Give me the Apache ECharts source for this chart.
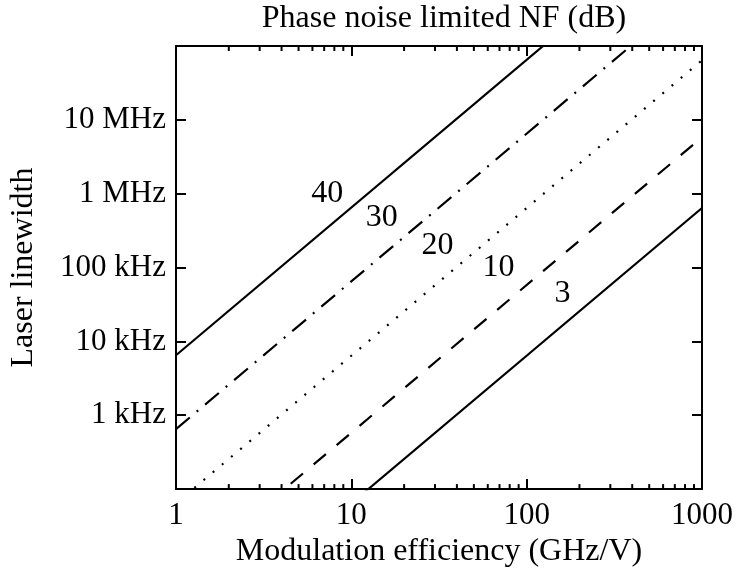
<!DOCTYPE html>
<html>
<head>
<meta charset="utf-8">
<script src="https://cdn.jsdelivr.net/npm/echarts@6/dist/echarts.min.js"></script>
<style>
    html, body { margin: 0; padding: 0; background: #fff; }
    #chart { width: 737px; height: 573px; }
</style>
</head>
<body>
<div id="chart"></div>
<script>
    // curve names (NF in dB) and linewidth read at x = 1 and x = 1000 GHz/V
    let nfNames = ['40', '30', '20', '10', '3'];
    let lwAt1 = [6500, 650, 64, 5.8, 0.64];
    let lwAt1000 = [6.5e9, 6.5e8, 6.4e7, 5.8e6, 6.4e5];
    let lineTypes = ['solid', [18, 9, 2, 9], [2, 10], [16, 14], 'solid'];

    // label positions for each curve
    let labelX = [7.3, 14.9, 31, 69, 160];
    let labelY = [1.0e6, 4.8e5, 2.0e5, 9.9e4, 4.5e4];

    let xTickVals = [1, 10, 100, 1000];
    let xTickText = ['1', '10', '100', '1000'];
    let xMinorTicks = [2, 3, 4, 5, 6, 7, 8, 9, 20, 30, 40, 50, 60, 70, 80, 90,
        200, 300, 400, 500, 600, 700, 800, 900];
    let yTickVals = [1e3, 1e4, 1e5, 1e6, 1e7];
    let yTickText = ['1 kHz', '10 kHz', '100 kHz', '1 MHz', '10 MHz'];

    let xMin = 1, xMax = 1000, yMin = 100, yMax = 1e8;
    let font = 'Liberation Serif';

    function lookup(vals, texts, v) {
        for (let i = 0; i < vals.length; i++) {
            if (Math.abs(v / vals[i] - 1) < 1e-6) return texts[i];
        }
        return '';
    }

    let chart = echarts.init(document.getElementById('chart'));

    let tickStyle = { show: true, inside: true, length: 10, lineStyle: { color: '#000', width: 2 } };
    let lineAxis = { show: true, lineStyle: { color: '#000', width: 2 } };

    let seriesArr = [];
    nfNames.forEach((name, i) => {
        seriesArr.push({
            name: name,
            type: 'line',
            xAxisIndex: 0,
            yAxisIndex: 0,
            showSymbol: false,
            clip: true,
            silent: true,
            lineStyle: { color: '#000', width: 2.2, type: lineTypes[i] },
            data: [[xMin, lwAt1[i]], [xMax, lwAt1000[i]]]
        });
    });

    seriesArr.push({
        type: 'scatter',
        symbolSize: 0,
        silent: true,
        itemStyle: { opacity: 1 },
        label: {
            show: true,
            position: 'inside',
            color: '#000',
            opacity: 1,
            fontFamily: font,
            fontSize: 32,
            formatter: p => nfNames[p.dataIndex]
        },
        data: labelX.map((x, i) => [x, labelY[i]])
    });

    seriesArr.push({
        type: 'custom',
        silent: true,
        renderItem: function (params, api) {
            let x = api.value(0);
            let b = api.coord([x, yMin]);
            let t = api.coord([x, yMax]);
            let st = { stroke: '#000', lineWidth: 2 };
            return {
                type: 'group',
                children: [
                    { type: 'line', shape: { x1: b[0], y1: b[1], x2: b[0], y2: b[1] - 5 }, style: st },
                    { type: 'line', shape: { x1: t[0], y1: t[1], x2: t[0], y2: t[1] + 5 }, style: st }
                ]
            };
        },
        data: xMinorTicks.map(v => [v, yMin])
    });

    let option = {
        backgroundColor: '#fff',
        animation: false,
        title: {
            text: 'Phase noise limited NF (dB)',
            left: 439,
            textAlign: 'center',
            top: -2,
            textStyle: { fontFamily: font, fontSize: 32, fontWeight: 'normal', color: '#000' }
        },
        grid: { left: 176, right: 35, top: 46, bottom: 82 },
        xAxis: [
            {
                type: 'log',
                min: xMin,
                max: xMax,
                position: 'bottom',
                axisLine: lineAxis,
                axisTick: tickStyle,
                splitLine: { show: false },
                axisLabel: {
                    color: '#000',
                    fontFamily: font,
                    fontSize: 31,
                    margin: 11,
                    formatter: v => lookup(xTickVals, xTickText, v)
                },
                name: 'Modulation efficiency (GHz/V)',
                nameLocation: 'middle',
                nameGap: 44,
                nameTextStyle: { color: '#000', fontFamily: font, fontSize: 32 }
            },
            {
                type: 'log',
                min: xMin,
                max: xMax,
                position: 'top',
                axisLine: lineAxis,
                axisTick: tickStyle,
                splitLine: { show: false },
                axisLabel: { show: false }
            }
        ],
        yAxis: [
            {
                type: 'log',
                min: yMin,
                max: yMax,
                position: 'left',
                axisLine: lineAxis,
                axisTick: tickStyle,
                splitLine: { show: false },
                axisLabel: {
                    color: '#000',
                    fontFamily: font,
                    fontSize: 31,
                    margin: 10,
                    formatter: v => lookup(yTickVals, yTickText, v)
                },
                name: 'Laser linewidth',
                nameLocation: 'middle',
                nameRotate: 90,
                nameGap: 136,
                nameTextStyle: { color: '#000', fontFamily: font, fontSize: 32 }
            },
            {
                type: 'log',
                min: yMin,
                max: yMax,
                position: 'right',
                axisLine: lineAxis,
                axisTick: tickStyle,
                splitLine: { show: false },
                axisLabel: { show: false }
            }
        ],
        series: seriesArr
    };

    chart.setOption(option);
</script>
</body>
</html>
